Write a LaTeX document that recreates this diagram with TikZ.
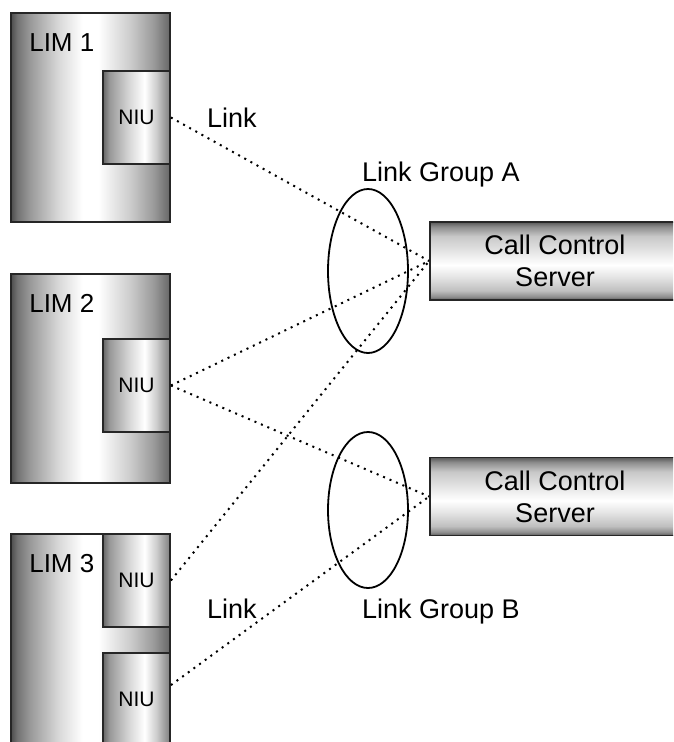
\documentclass[tikz,border=0pt]{standalone}
\usepackage{fontspec}
\setmainfont{Liberation Sans}
\usetikzlibrary{shapes.geometric}
% metallic fills
\pgfdeclarehorizontalshading{limshade}{100bp}{color(0bp)=(black!70); color(25bp)=(black!70); color(27bp)=(black!55); color(31bp)=(black!40); color(40bp)=(black!15); color(47.5bp)=(white); color(52.5bp)=(white); color(62.5bp)=(black!20); color(70bp)=(black!40); color(75bp)=(black!60); color(100bp)=(black!60)}
\pgfdeclarehorizontalshading{niushade}{100bp}{color(0bp)=(black!60); color(25bp)=(black!60); color(30bp)=(black!40); color(45bp)=(black!15); color(56bp)=(white); color(65bp)=(black!20); color(75bp)=(black!50); color(100bp)=(black!50)}
\pgfdeclareverticalshading{srvshade}{100bp}{color(0bp)=(black!65); color(25bp)=(black!65); color(27bp)=(black!45); color(31bp)=(black!25); color(40bp)=(black!10); color(47.5bp)=(white); color(56bp)=(black!10); color(66bp)=(black!22); color(72bp)=(black!45); color(75bp)=(black!65); color(100bp)=(black!65)}
\begin{document}
\begin{tikzpicture}[x=1pt,y=-1pt,
  limbox/.style={draw=black!85,line width=1.8pt,shade,shading=limshade,minimum width=159pt,minimum height=209pt,inner sep=0pt},
  niubox/.style={draw=black!85,line width=1.8pt,shade,shading=niushade,minimum width=67pt,minimum height=93pt,inner sep=0pt,font=\fontsize{21}{24}\selectfont},
  srvbox/.style={draw=black!85,line width=1.8pt,shade,shading=srvshade,minimum width=250pt,minimum height=78pt,inner sep=0pt,align=center,font=\fontsize{27}{32}\selectfont},
  grpring/.style={ellipse,draw,line width=1.8pt,minimum width=80pt,inner sep=0pt},
  txt/.style={font=\fontsize{27}{32}\selectfont,inner sep=0pt,anchor=base west},
  limtxt/.style={font=\fontsize{26}{30}\selectfont,inner sep=0pt,anchor=base west},
  link/.style={line width=2pt,dash pattern=on 2pt off 5pt}]
\useasboundingbox (0,0) rectangle (673,742);
\clip (0,0) rectangle (673,742);

% LIMs with their NIUs
\node[limbox] (lim1) at (90.5,117.5) {};
\node[niubox] (niu1) at (136.5,117.5) {NIU};
\node[limtxt] (lim1txt) at ([xshift=19pt,yshift=-39pt]lim1.north west) {LIM 1};

\node[limbox] (lim2) at (90.5,378.5) {};
\node[niubox] (niu2) at (136.5,385.5) {NIU};
\node[limtxt] (lim2txt) at ([xshift=19pt,yshift=-39pt]lim2.north west) {LIM 2};

\node[limbox,minimum height=260pt] (lim3) at (90.5,664) {};
\node[niubox] (niu3a) at (136.5,580.5) {NIU};
\node[niubox] (niu3b) at (136.5,699.5) {NIU};
\node[limtxt] (lim3txt) at ([xshift=19pt,yshift=-39pt]lim3.north west) {LIM 3};
\coordinate (niu3bport) at ([yshift=-33pt]niu3b.north east);

% servers
\node[srvbox] (srv1) at (555,261) {Call Control\\Server};
\node[srvbox] (srv2) at (555,496.5) {Call Control\\Server};

% link groups
\node[grpring,minimum height=164pt] (grpA) at (368,271) {};
\node[grpring,minimum height=156pt] (grpB) at (368,510) {};
\node[txt] (lgA) at ([xshift=-6pt,yshift=7pt]grpA.north) {Link Group A};
\node[txt] (lgB) at ([xshift=-6pt,yshift=-30pt]grpB.south) {Link Group B};
\node[txt] (lnk1) at (207,127) {Link};
\node[txt] (lnk2) at (207,618) {Link};

\draw[link] (niu1.east) -- (srv1.west);
\draw[link] (niu2.east) -- (srv1.west);
\draw[link] (niu2.east) -- (srv2.west);
\draw[link] (niu3a.east) -- (srv1.west);
\draw[link] (niu3bport) -- (srv2.west);

\end{tikzpicture}
\end{document}
